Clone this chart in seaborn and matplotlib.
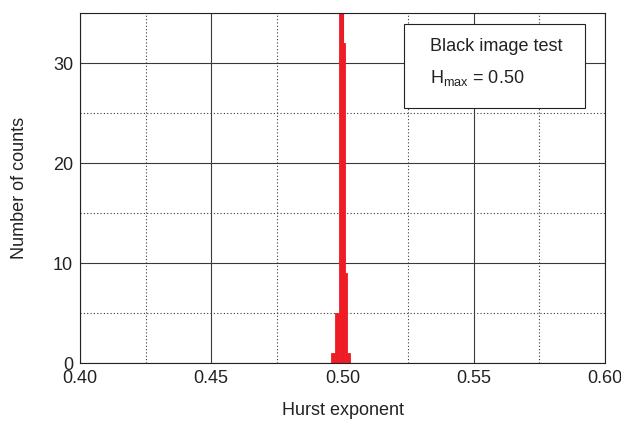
import matplotlib
matplotlib.use("Agg")
import matplotlib.pyplot as plt
from matplotlib.patches import Rectangle
from matplotlib.ticker import MultipleLocator
import seaborn as sns

# histogram bin edges and counts
BIN_EDGES = [0.4955, 0.4970, 0.4985, 0.5001, 0.5010, 0.5019, 0.5028]
COUNTS = [1, 5, 40, 32, 9, 1]
BIN_CENTERS = [(a + b) / 2 for a, b in zip(BIN_EDGES[:-1], BIN_EDGES[1:])]

X_TICKS = [0.40, 0.45, 0.50, 0.55, 0.60]
Y_TICKS = [0, 10, 20, 30]

sns.set_theme(style="white")
plt.rcParams["font.family"] = ["Liberation Sans", "DejaVu Sans"]
plt.rcParams["mathtext.fontset"] = "custom"
plt.rcParams["mathtext.rm"] = "Liberation Sans"
plt.rcParams["mathtext.it"] = "Liberation Sans"

fig = plt.figure(figsize=(6.21, 4.25), dpi=100)
ax = fig.add_axes([80 / 621, (425 - 363) / 425, 525 / 621, 350 / 425])

sns.histplot(x=BIN_CENTERS, weights=COUNTS, bins=BIN_EDGES, ax=ax,
             color="#ee1c25", alpha=1, edgecolor="#ee1c25", linewidth=0.6)

ax.set_xlim(0.40, 0.60)
ax.set_ylim(0, 35)
ax.set_xticks(X_TICKS)
ax.set_xticklabels([f"{v:.2f}" for v in X_TICKS])
ax.set_yticks(Y_TICKS)
ax.xaxis.set_minor_locator(MultipleLocator(0.025))
ax.yaxis.set_minor_locator(MultipleLocator(5))
ax.grid(which="major", color="#3a3a3a", linewidth=0.8, linestyle="-")
ax.grid(which="minor", color="#3a3a3a", linewidth=0.8, linestyle=(0, (1, 2)))
ax.set_axisbelow(True)
ax.tick_params(which="both", direction="in", length=0, labelsize=13, colors="#222222", pad=5)
for s in ax.spines.values():
    s.set_color("#222222")
    s.set_linewidth(0.8)

ax.set_xlabel("Hurst exponent", fontsize=13, labelpad=11, color="#222222")
ax.set_ylabel("Number of counts", fontsize=13, labelpad=18, color="#222222")

ax.add_patch(Rectangle((0.617, 0.729), 0.345, 0.24, transform=ax.transAxes,
                       facecolor="white", edgecolor="#222222", linewidth=0.8, zorder=5))
ax.text(0.667, 0.903, "Black image test", transform=ax.transAxes, fontsize=13,
        va="center", ha="left", color="#222222", zorder=6)
ax.text(0.667, 0.814, r"H$_{\mathrm{max}}$ = 0.50", transform=ax.transAxes, fontsize=13,
        va="center", ha="left", color="#222222", zorder=6)

fig.savefig("out.png", dpi=100)
